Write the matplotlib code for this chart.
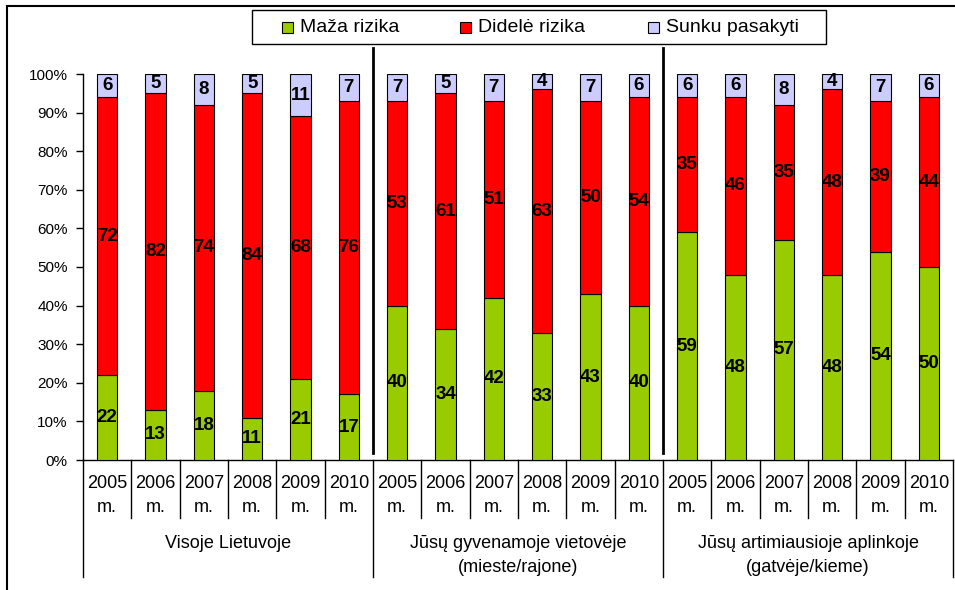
import matplotlib
matplotlib.use("Agg")
import matplotlib.pyplot as plt
import matplotlib.transforms as mtransforms
from matplotlib.patches import Rectangle
import numpy as np

plt.rcParams['font.family'] = ['Liberation Sans', 'DejaVu Sans']

years = ["2005\nm.", "2006\nm.", "2007\nm.", "2008\nm.", "2009\nm.", "2010\nm."]
groups = ["Visoje Lietuvoje", "Jūsų gyvenamoje vietovėje\n(mieste/rajone)",
          "Jūsų artimiausioje aplinkoje\n(gatvėje/kieme)"]
series_names = ["Maža rizika", "Didelė rizika", "Sunku pasakyti"]
maza = [22, 13, 18, 11, 21, 17, 40, 34, 42, 33, 43, 40, 59, 48, 57, 48, 54, 50]
didele = [72, 82, 74, 84, 68, 76, 53, 61, 51, 63, 50, 54, 35, 46, 35, 48, 39, 44]
sunku = [6, 5, 8, 5, 11, 7, 7, 5, 7, 4, 7, 6, 6, 6, 8, 4, 7, 6]
colors = ["#99CC00", "#FF0000", "#CCCCFF"]

W, H = 955, 590
fig = plt.figure(figsize=(W / 100, H / 100), dpi=100)
fig.patch.set_facecolor("white")

def fx(px):
    return px / W

def fy(py):
    return 1 - py / H

# outer chart-area border
fig.add_artist(Rectangle((fx(7), -0.05), 1.2, fy(6) + 0.05, transform=fig.transFigure,
                         fill=False, edgecolor="black", linewidth=1.5))

ax = fig.add_axes([fx(83), fy(460), (953 - 83) / W, (460 - 74) / H])
n = len(maza)
x = np.arange(n)
bw = 0.42
bottom = np.zeros(n)
for vals, col in zip([maza, didele, sunku], colors):
    vals = np.array(vals, dtype=float)
    ax.bar(x, vals, bw, bottom=bottom, color=col, edgecolor="black", linewidth=0.8, zorder=3)
    for xi, b, v in zip(x, bottom, vals):
        ax.text(xi, b + v / 2, f"{int(v)}", ha="center", va="center",
                fontsize=13.5, fontweight="bold", color="black", zorder=4)
    bottom += vals

ax.set_xlim(-0.5, n - 0.5)
ax.set_ylim(0, 100)
ax.set_yticks(np.arange(0, 101, 10))
ax.set_yticklabels([f"{v}%" for v in range(0, 101, 10)], fontsize=11)
ax.tick_params(axis="y", length=5, width=1, direction="out", pad=6)
ax.set_xticks([])
for s in ["top", "right"]:
    ax.spines[s].set_visible(False)
for s in ["left", "bottom"]:
    ax.spines[s].set_linewidth(1)

trans = mtransforms.blended_transform_factory(ax.transData, ax.transAxes)
ph = 386.0
# category label lines and text
for i in range(n):
    top, bot = years[i % 6].split("\n")
    ax.text(i, -(484 - 460) / ph, top, transform=trans,
            ha="center", va="center", fontsize=13)
    ax.text(i, -(508 - 460) / ph, bot, transform=trans,
            ha="center", va="center", fontsize=13)
for b in range(1, n):
    if b % 6 == 0:
        continue
    ax.plot([b - 0.5, b - 0.5], [0, -(518 - 460) / ph], transform=trans,
            color="black", linewidth=1, clip_on=False)
for g in range(4):
    xb = g * 6 - 0.5
    ax.plot([xb, xb], [0, -(577 - 460) / ph], transform=trans,
            color="black", linewidth=1, clip_on=False)
for g, name in enumerate(groups):
    for k, ln in enumerate(name.split("\n")):
        ax.text(g * 6 + 2.5, -(544 + 23 * k - 460) / ph, ln, transform=trans,
                ha="center", va="center", fontsize=13)

# group separators inside plot
for g in (1, 2):
    xb = g * 6 - 0.5
    ax.plot([xb, xb], [(460 - 453) / ph, (460 - 48) / ph], transform=trans,
            color="black", linewidth=2, clip_on=False, zorder=5)

# legend box (drawn manually to match placement)
fig.add_artist(Rectangle((fx(252), fy(44)), (826 - 252) / W, 34 / H,
                         transform=fig.transFigure, facecolor="white",
                         edgecolor="black", linewidth=1))
sq_x = [282, 460, 648]
for sx, name, col in zip(sq_x, series_names, colors):
    fig.add_artist(Rectangle((fx(sx), fy(33)), 11 / W, 11 / H, transform=fig.transFigure,
                             facecolor=col, edgecolor="black", linewidth=0.8))
    fig.text(fx(sx + 18), fy(27.5), name, ha="left", va="center", fontsize=14)

fig.savefig("out.png", dpi=100, facecolor="white")
